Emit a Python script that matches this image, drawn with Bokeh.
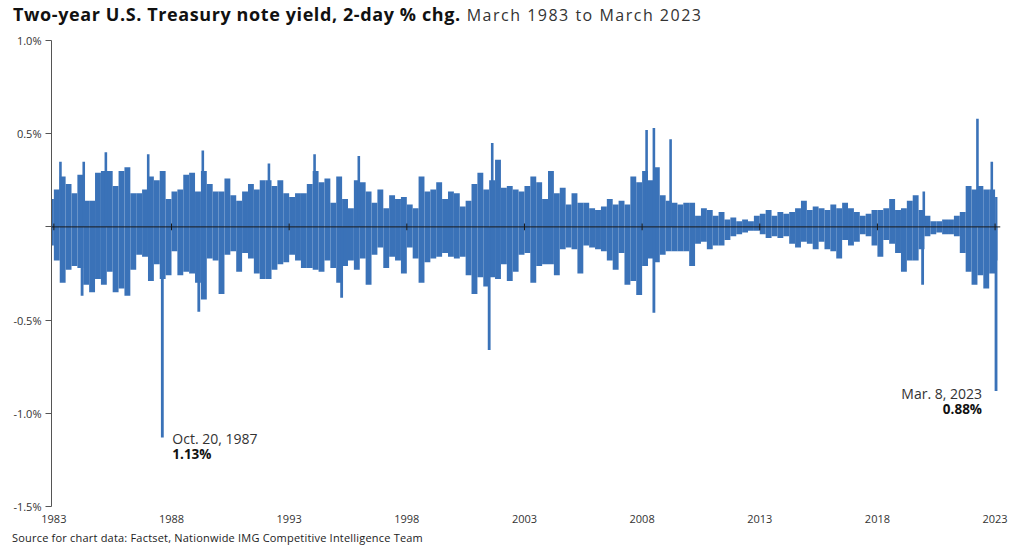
import numpy as np
from bokeh.plotting import figure
from bokeh.models import Label, FixedTicker, Span, Div
from bokeh.layouts import column
from bokeh.embed import file_html
from bokeh.resources import INLINE

# ---------------- data ----------------
title_main = "Two-year U.S. Treasury note yield, 2-day % chg."
title_sub = "March 1983 to March 2023"
source_note = "Source for chart data: Factset, Nationwide IMG Competitive Intelligence Team"

year_ticks = [1983, 1988, 1993, 1998, 2003, 2008, 2013, 2018, 2023]
y_ticks = [-1.5, -1.0, -0.5, 0.0, 0.5, 1.0]
y_tick_labels = ["-1.5%", "-1.0%", "-0.5%", "", "0.5%", "1.0%"]

# quarterly envelope of the 2-day % changes (max up / max down per quarter)
first_quarter_left = 1982.75
series_end = 2023.10
upper = [0.15,
         0.20, 0.27, 0.23, 0.18, 0.28, 0.14, 0.14, 0.29, 0.30, 0.30,
         0.22, 0.30, 0.32, 0.18, 0.18, 0.20, 0.27, 0.25, 0.30, 0.15,
         0.19, 0.20, 0.28, 0.29, 0.19, 0.30, 0.23, 0.19, 0.19, 0.26,
         0.17, 0.14, 0.19, 0.23, 0.20, 0.25, 0.25, 0.22, 0.25, 0.18,
         0.16, 0.18, 0.18, 0.23, 0.30, 0.24, 0.26, 0.13, 0.27, 0.15,
         0.10, 0.25, 0.24, 0.19, 0.13, 0.20, 0.10, 0.17, 0.15, 0.16,
         0.12, 0.10, 0.27, 0.19, 0.20, 0.24, 0.15, 0.19, 0.18, 0.11,
         0.14, 0.23, 0.29, 0.20, 0.25, 0.36, 0.21, 0.22, 0.20, 0.19,
         0.22, 0.27, 0.24, 0.15, 0.30, 0.18, 0.21, 0.12, 0.18, 0.13,
         0.13, 0.10, 0.09, 0.11, 0.15, 0.12, 0.14, 0.12, 0.27, 0.24,
         0.30, 0.25, 0.32, 0.17, 0.14, 0.13, 0.12, 0.13, 0.13, 0.06,
         0.10, 0.09, 0.06, 0.08, 0.04, 0.05, 0.03, 0.04, 0.03, 0.06,
         0.07, 0.09, 0.06, 0.08, 0.07, 0.08, 0.10, 0.14, 0.09, 0.11,
         0.10, 0.09, 0.12, 0.10, 0.13, 0.10, 0.08, 0.06, 0.07, 0.09,
         0.09, 0.10, 0.15, 0.09, 0.10, 0.14, 0.17, 0.09, 0.06, 0.03,
         0.03, 0.04, 0.04, 0.06, 0.08, 0.22, 0.20, 0.22, 0.20, 0.20,
         0.16]
lower = [-0.10,
         -0.18, -0.30, -0.23, -0.21, -0.22, -0.31, -0.35, -0.28, -0.31, -0.24,
         -0.35, -0.33, -0.37, -0.23, -0.15, -0.16, -0.29, -0.20, -0.28, -0.26,
         -0.13, -0.26, -0.24, -0.25, -0.30, -0.39, -0.17, -0.18, -0.36, -0.15,
         -0.13, -0.24, -0.14, -0.17, -0.25, -0.28, -0.28, -0.23, -0.20, -0.19,
         -0.15, -0.18, -0.22, -0.22, -0.23, -0.24, -0.18, -0.22, -0.30, -0.21,
         -0.18, -0.23, -0.17, -0.31, -0.15, -0.11, -0.22, -0.16, -0.18, -0.25,
         -0.11, -0.17, -0.30, -0.19, -0.17, -0.16, -0.14, -0.16, -0.17, -0.16,
         -0.26, -0.36, -0.27, -0.32, -0.27, -0.28, -0.20, -0.29, -0.24, -0.15,
         -0.14, -0.30, -0.21, -0.20, -0.20, -0.26, -0.12, -0.11, -0.12, -0.25,
         -0.10, -0.11, -0.12, -0.13, -0.18, -0.23, -0.14, -0.31, -0.29, -0.365,
         -0.21, -0.17, -0.19, -0.15, -0.13, -0.13, -0.13, -0.13, -0.21, -0.09,
         -0.08, -0.12, -0.10, -0.10, -0.07, -0.05, -0.04, -0.03, -0.02, -0.02,
         -0.04, -0.06, -0.05, -0.06, -0.05, -0.09, -0.11, -0.08, -0.09, -0.12,
         -0.08, -0.12, -0.13, -0.17, -0.07, -0.10, -0.08, -0.04, -0.05, -0.10,
         -0.16, -0.07, -0.09, -0.14, -0.24, -0.18, -0.18, -0.12, -0.05, -0.04,
         -0.03, -0.04, -0.04, -0.05, -0.14, -0.24, -0.31, -0.26, -0.33, -0.25,
         -0.18]

# individual extreme days
spike_up_x = [1983.28, 1984.27, 1985.21, 1987.01, 1989.33, 1992.14, 1994.08,
              1995.96, 2001.63, 2008.19, 2008.50, 2009.21, 2019.97, 2022.25, 2022.86]
spike_up_y = [0.35, 0.35, 0.40, 0.39, 0.41, 0.34, 0.39,
              0.38, 0.45, 0.52, 0.53, 0.47, 0.19, 0.58, 0.35]
spike_dn_x = [1984.20, 1987.61, 1989.16, 1995.23, 2001.50, 2008.50, 2019.92, 2023.04]
spike_dn_y = [-0.37, -1.13, -0.455, -0.38, -0.66, -0.46, -0.31, -0.88]

# ---------------- figure ----------------
BLUE = "#3a72b8"
FONT = "Open Sans"
TXT = "#333333"

HEAD_H = 30
FOOT_H = 20
FIG_H = 548 - HEAD_H - FOOT_H

head = Div(
    text=(f'<span style="font-family:\'{FONT}\';font-weight:bold;font-size:18px;letter-spacing:0.6px;color:#111111;">{title_main}</span>'
          f'<span style="font-family:\'{FONT}\';font-size:16px;letter-spacing:1.5px;color:{TXT};margin-left:6px;">{title_sub}</span>'),
    width=1024, height=HEAD_H, margin=0,
    styles={"padding-left": "13px", "padding-top": "2px", "white-space": "nowrap", "line-height": "normal"})

foot = Div(
    text=f'<span style="font-family:\'{FONT}\';font-size:11px;letter-spacing:0.2px;color:#222222;">{source_note}</span>',
    width=1024, height=FOOT_H, margin=0,
    styles={"padding-left": "12px", "padding-top": "2px", "white-space": "nowrap", "line-height": "normal"})

p = figure(width=1024, height=FIG_H, output_backend="svg", toolbar_location=None,
           x_range=(1982.90, 2023.23), y_range=(-1.5, 1.0),
           min_border_left=51, min_border_right=24, min_border_top=40 - HEAD_H,
           min_border_bottom=FIG_H - (506 - HEAD_H), margin=0)
p.outline_line_color = None
p.grid.grid_line_color = None
p.background_fill_color = "white"
p.border_fill_color = "white"

left_edges = first_quarter_left + 0.25 * np.arange(len(upper))
right_edges = np.minimum(left_edges + 0.25, series_end)
p.quad(left=left_edges, right=right_edges, top=upper, bottom=lower,
       fill_color=BLUE, line_color=None)
p.vbar(x=spike_up_x, top=spike_up_y, bottom=0, width=0.11, fill_color=BLUE, line_color=None)
p.vbar(x=spike_dn_x, top=0, bottom=spike_dn_y, width=0.12, fill_color=BLUE, line_color=None)

# zero line with small year ticks
p.add_layout(Span(location=0, dimension="width", line_color="#1a1a1a", line_width=1))
p.segment(x0=year_ticks, x1=year_ticks, y0=[-0.018] * len(year_ticks), y1=[0.018] * len(year_ticks),
          line_color="#1a1a1a", line_width=1)

# y axis
p.yaxis.ticker = FixedTicker(ticks=y_ticks)
p.yaxis.major_label_overrides = {t: l for t, l in zip(y_ticks, y_tick_labels)}
p.yaxis.axis_line_color = "#555555"
p.yaxis.major_tick_line_color = "#555555"
p.yaxis.major_tick_out = 6
p.yaxis.major_tick_in = 0
p.yaxis.minor_tick_line_color = None
p.yaxis.major_label_text_font = FONT
p.yaxis.major_label_text_font_size = "11px"
p.yaxis.major_label_text_color = TXT
p.yaxis.major_label_standoff = 4

# x axis (labels only)
p.xaxis.ticker = FixedTicker(ticks=year_ticks)
p.xaxis.major_label_overrides = {t: str(t) for t in year_ticks}
p.xaxis.axis_line_color = None
p.xaxis.major_tick_line_color = None
p.xaxis.major_tick_out = 0
p.xaxis.major_tick_in = 0
p.xaxis.minor_tick_line_color = None
p.xaxis.major_label_text_font = FONT
p.xaxis.major_label_text_font_size = "11px"
p.xaxis.major_label_text_color = TXT
p.xaxis.major_label_standoff = 8

# annotations
ann1_x = spike_dn_x[1]
p.add_layout(Label(x=ann1_x, y=spike_dn_y[1], x_offset=10, y_offset=-1, text="Oct. 20, 1987",
                   text_font=FONT, text_font_size="14px", text_color=TXT, text_baseline="alphabetic"))
p.add_layout(Label(x=ann1_x, y=spike_dn_y[1], x_offset=10, y_offset=-16, text="1.13%",
                   text_font=FONT, text_font_size="13.5px", text_font_style="bold",
                   text_color="#111111", text_baseline="alphabetic"))
ann2_x = spike_dn_x[-1]
p.add_layout(Label(x=ann2_x, y=spike_dn_y[-1], x_offset=-14, y_offset=-3, text="Mar. 8, 2023",
                   text_font=FONT, text_font_size="14px", text_color=TXT,
                   text_baseline="alphabetic", text_align="right"))
p.add_layout(Label(x=ann2_x, y=spike_dn_y[-1], x_offset=-14, y_offset=-18, text="0.88%",
                   text_font=FONT, text_font_size="13.5px", text_font_style="bold",
                   text_color="#111111", text_baseline="alphabetic", text_align="right"))

layout = column(head, p, foot, spacing=0, margin=0)
open("out.html", "w").write(file_html(layout, INLINE))
